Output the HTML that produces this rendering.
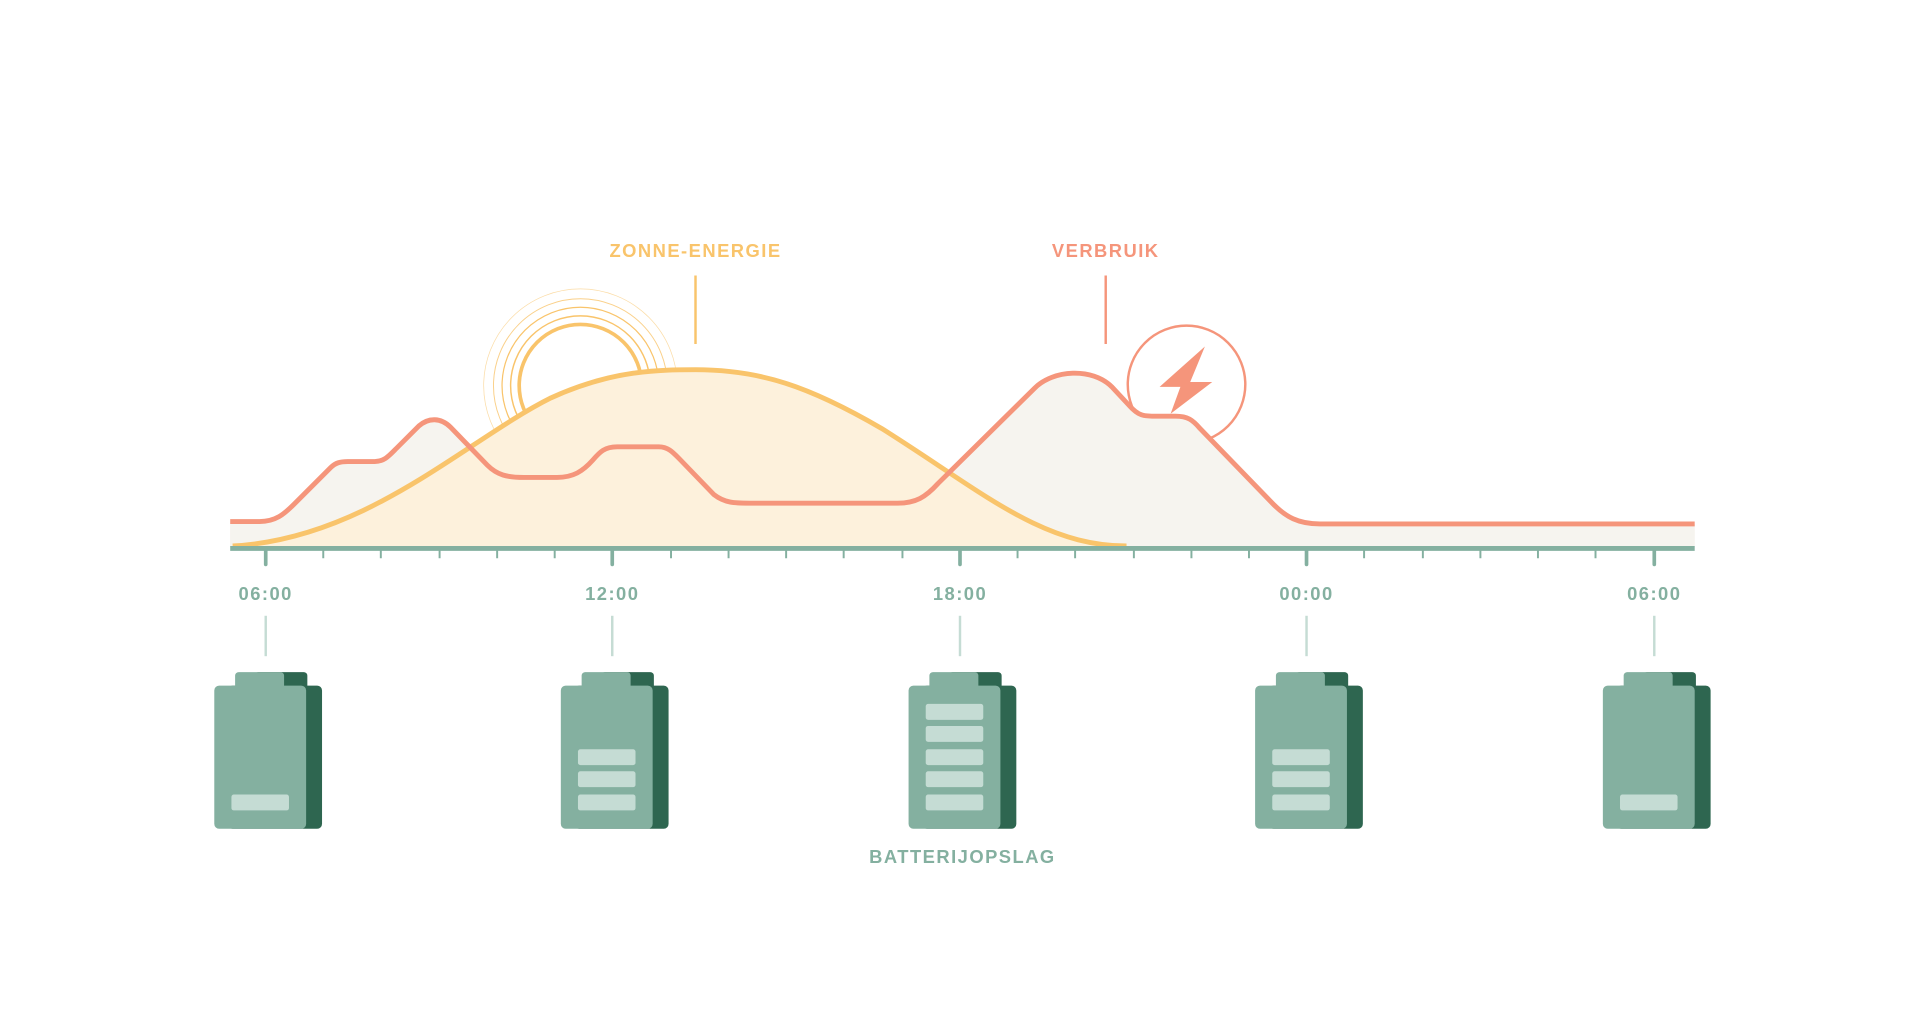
<!DOCTYPE html>
<html><head><meta charset="utf-8"><style>
html,body{margin:0;padding:0;background:#fff;width:1920px;height:1021px;overflow:hidden}
svg{display:block}
text{font-family:"Liberation Sans",sans-serif;font-weight:bold;font-size:15px;letter-spacing:1.2px;text-anchor:middle}
</style></head><body>
<svg width="1920" height="1021" viewBox="0 0 1568 834" preserveAspectRatio="none" xmlns="http://www.w3.org/2000/svg">
<defs>
<g id="bat">
  <rect x="-10" y="-11" width="43" height="14" rx="3" fill="#2e6650"/>
  <rect x="-32" y="0" width="77" height="117" rx="4" fill="#2e6650"/>
  <rect x="-26" y="-11" width="40" height="14" rx="3" fill="#84b0a0"/>
  <rect x="-43" y="0" width="75" height="117" rx="4" fill="#84b0a0"/>
</g>
</defs>
<text x="568" y="210" fill="#f9c46b">ZONNE-ENERGIE</text>
<text x="903" y="210" fill="#f5957b">VERBRUIK</text>
<line x1="568" y1="225" x2="568" y2="281" stroke="#f9c46b" stroke-width="2"/>
<line x1="903" y1="225" x2="903" y2="281" stroke="#f5957b" stroke-width="2"/>
<g fill="none" stroke="#f9c46b">
<circle cx="474" cy="315" r="50" stroke-width="3"/>
<circle cx="474" cy="315" r="57" stroke-width="1.2"/>
<circle cx="474" cy="315" r="64" stroke-width="1"/>
<circle cx="474" cy="315" r="71" stroke-width="0.8" opacity="0.8"/>
<circle cx="474" cy="315" r="79" stroke-width="0.6" opacity="0.6"/>
</g>
<circle cx="969" cy="314" r="48" fill="none" stroke="#f5957b" stroke-width="2"/>
<rect x="188" y="428" width="1196" height="19" fill="#f5f3ee"/>
<path d="M188,446 L188,426 L212,426 C225,426 232,420 240,412 L270,382 C274,378 278,377 284,377 L306,377 C314,377 318,372 324,366 L342,348 C350,341 360,341 368,349 L398,380 C406,388 414,390 428,390 L455,390 C468,390 476,385 484,376 C490,369 494,365 504,365 L538,365 C546,365 550,370 556,376 L583,404 C592,411 600,411 612,411 L733,411 C748,411 756,406 766,395 L845,317 C860,302 892,300 908,316 L922,331 C930,340 934,340 944,340 L960,340 C970,340 974,343 980,350 L1040,412 C1050,422 1060,428 1078,428 L1384,428 L1384,446 Z" fill="#f6f4ef"/>
<path d="M190,446 C300,440 380,360 450,325 C500,302 540,302 568,302 C620,302 660,315 720,350 C800,400 850,446 920,446 Z" fill="#fdf1dc"/>
<path d="M190,446 C300,440 380,360 450,325 C500,302 540,302 568,302 C620,302 660,315 720,350 C800,400 850,446 920,446" fill="none" stroke="#f9c46b" stroke-width="4"/>
<path d="M188,426 L212,426 C225,426 232,420 240,412 L270,382 C274,378 278,377 284,377 L306,377 C314,377 318,372 324,366 L342,348 C350,341 360,341 368,349 L398,380 C406,388 414,390 428,390 L455,390 C468,390 476,385 484,376 C490,369 494,365 504,365 L538,365 C546,365 550,370 556,376 L583,404 C592,411 600,411 612,411 L733,411 C748,411 756,406 766,395 L845,317 C860,302 892,300 908,316 L922,331 C930,340 934,340 944,340 L960,340 C970,340 974,343 980,350 L1040,412 C1050,422 1060,428 1078,428 L1384,428" fill="none" stroke="#f5957b" stroke-width="4"/>
<polygon points="984,283 947,316 964,316 956,338 990,312 972,312" fill="#f5957b"/>
<line x1="188" y1="448" x2="1384" y2="448" stroke="#84b0a0" stroke-width="4"/>
<g stroke="#84b0a0" stroke-width="3" stroke-linecap="round">
<line x1="217" y1="448" x2="217" y2="461"/><line x1="500" y1="448" x2="500" y2="461"/><line x1="784" y1="448" x2="784" y2="461"/><line x1="1067" y1="448" x2="1067" y2="461"/><line x1="1351" y1="448" x2="1351" y2="461"/>
</g>
<g stroke="#84b0a0" stroke-width="1.6">
<line x1="264" y1="448" x2="264" y2="456"/><line x1="311" y1="448" x2="311" y2="456"/><line x1="359" y1="448" x2="359" y2="456"/><line x1="406" y1="448" x2="406" y2="456"/><line x1="453" y1="448" x2="453" y2="456"/>
<line x1="548" y1="448" x2="548" y2="456"/><line x1="595" y1="448" x2="595" y2="456"/><line x1="642" y1="448" x2="642" y2="456"/><line x1="689" y1="448" x2="689" y2="456"/><line x1="737" y1="448" x2="737" y2="456"/>
<line x1="831" y1="448" x2="831" y2="456"/><line x1="878" y1="448" x2="878" y2="456"/><line x1="926" y1="448" x2="926" y2="456"/><line x1="973" y1="448" x2="973" y2="456"/><line x1="1020" y1="448" x2="1020" y2="456"/>
<line x1="1114" y1="448" x2="1114" y2="456"/><line x1="1162" y1="448" x2="1162" y2="456"/><line x1="1209" y1="448" x2="1209" y2="456"/><line x1="1256" y1="448" x2="1256" y2="456"/><line x1="1303" y1="448" x2="1303" y2="456"/>
</g>
<g fill="#84b0a0">
<text x="217" y="490">06:00</text><text x="500" y="490">12:00</text><text x="784" y="490">18:00</text><text x="1067" y="490">00:00</text><text x="1351" y="490">06:00</text>
<text x="786" y="705">BATTERIJOPSLAG</text>
</g>
<g stroke="#c5dcd4" stroke-width="2">
<line x1="217" y1="503" x2="217" y2="536"/><line x1="500" y1="503" x2="500" y2="536"/><line x1="784" y1="503" x2="784" y2="536"/><line x1="1067" y1="503" x2="1067" y2="536"/><line x1="1351" y1="503" x2="1351" y2="536"/>
</g>
<g fill="#c5dcd4">
<g transform="translate(218,560)"><use href="#bat"/><rect x="-29" y="89" width="47" height="13" rx="2"/></g>
<g transform="translate(501,560)"><use href="#bat"/><rect x="-29" y="52" width="47" height="13" rx="2"/><rect x="-29" y="70" width="47" height="13" rx="2"/><rect x="-29" y="89" width="47" height="13" rx="2"/></g>
<g transform="translate(785,560)"><use href="#bat"/><rect x="-29" y="15" width="47" height="13" rx="2"/><rect x="-29" y="33" width="47" height="13" rx="2"/><rect x="-29" y="52" width="47" height="13" rx="2"/><rect x="-29" y="70" width="47" height="13" rx="2"/><rect x="-29" y="89" width="47" height="13" rx="2"/></g>
<g transform="translate(1068,560)"><use href="#bat"/><rect x="-29" y="52" width="47" height="13" rx="2"/><rect x="-29" y="70" width="47" height="13" rx="2"/><rect x="-29" y="89" width="47" height="13" rx="2"/></g>
<g transform="translate(1352,560)"><use href="#bat"/><rect x="-29" y="89" width="47" height="13" rx="2"/></g>
</g>
</svg>
</body></html>
